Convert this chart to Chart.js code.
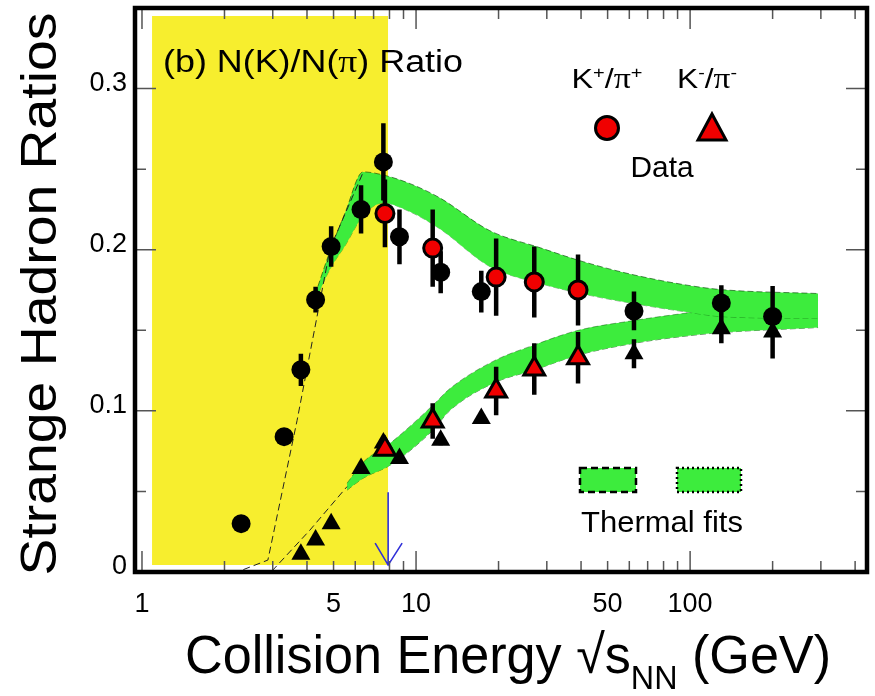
<!DOCTYPE html>
<html>
<head>
<meta charset="utf-8">
<script src="https://cdn.jsdelivr.net/npm/chart.js@4"></script>
<style>
  body { margin: 0; background: #fff; }
</style>
</head>
<body>
<canvas id="c" width="875" height="696"></canvas>
<script>
// ---- data ----
// black circles: K+/pi+ from earlier experiments (AGS, SPS, RHIC)
const eOtherPlus   = [2.3, 3.3, 3.8, 4.3, 4.9, 6.3, 7.6, 8.7, 12.3, 17.3, 62.4, 130, 200];
const kPlusOther   = [0.030, 0.084, 0.1255, 0.169, 0.202, 0.225, 0.2545, 0.208, 0.186, 0.174, 0.162, 0.167, 0.1585];
const kPlusOtherEr = [0, 0, 0.010, 0.008, 0.0125, 0.015, 0.024, 0.017, 0.013, 0.013, 0.012, 0.011, 0.019];

// black triangles: K-/pi- from earlier experiments
const eOtherMinus   = [3.8, 4.3, 4.9, 6.3, 7.6, 8.7, 12.3, 17.3, 62.4, 130, 200];
const kMinusOther   = [0.011, 0.0198, 0.030, 0.0642, 0.080, 0.0704, 0.0817, 0.0952, 0.1354, 0.151, 0.149];
const kMinusOtherEr = [0, 0, 0, 0, 0, 0, 0.003, 0.003, 0.009, 0.009, 0.0165];

// red markers: this data
const eData      = [7.7, 11.5, 19.6, 27, 39];
const kPlusData  = [0.2225, 0.201, 0.183, 0.180, 0.175];
const kPlusEr    = [0.021, 0.024, 0.024, 0.022, 0.022];
const kMinusData = [0.0762, 0.0937, 0.1123, 0.126, 0.133];
const kMinusEr   = [0.004, 0.011, 0.015, 0.016, 0.016];

// thermal fit bands
const fitPlusE  = [4.28, 4.86, 5.51, 6.41, 7.58, 9.51, 12.2, 18.6, 28.4, 40.7, 61.9, 100, 131, 293];
const fitPlusHi = [0.172, 0.1994, 0.2229, 0.2483, 0.2464, 0.2410, 0.2322, 0.2118, 0.2012, 0.1926, 0.1845, 0.1777, 0.1752, 0.1728];
const fitPlusLo = [0.168, 0.1882, 0.2025, 0.2211, 0.2290, 0.2235, 0.2130, 0.1895, 0.1790, 0.1725, 0.1666, 0.1610, 0.1585, 0.1573];
const fitMinusE  = [5.60, 6.41, 8.04, 11.5, 13.3, 19.4, 26.7, 38.7, 61.9, 100, 131, 293];
const fitMinusHi = [0.0551, 0.0681, 0.0799, 0.1034, 0.1139, 0.1313, 0.1406, 0.1498, 0.1560, 0.1610, 0.1635, 0.1684];
const fitMinusLo = [0.0508, 0.0582, 0.0663, 0.0879, 0.1003, 0.1176, 0.1251, 0.1344, 0.1418, 0.1467, 0.1486, 0.1517];

// dashed fit curves at low energy
const linePlusE  = [2.15, 2.88, 3.68, 4.86, 6.41];
const linePlus   = [-0.001, 0.0074, 0.094, 0.201, 0.248];
const lineMinusE = [2.98, 4.10, 5.60];
const lineMinus  = [0.0006, 0.026, 0.053];

// yellow shaded energy range and arrow
const shadeE = [1.088, 7.91];
const shadeY = [0.0043, 0.345];
const arrowE = 7.91;
const arrowY = [0.0495, 0.0043];

// axis ticks
const xTickValues = [1, 2, 3, 4, 5, 6, 7, 8, 9, 10, 20, 30, 40, 50, 60, 70, 80, 90, 100, 200, 300, 400];
const xTickLabels = { 1: '1', 5: '5', 10: '10', 50: '50', 100: '100' };
const xMajor = [1, 10, 100];
const yTickValues = [0, 0.1, 0.2, 0.3];
const yTickLabels = ['0', '0.1', '0.2', '0.3'];

// ---- helpers ----
const canvas = document.getElementById('c');
const greenFill = '#3dec3d';
const yellowFill = '#f7ee2e';

const pts = (xs, ys) => xs.map((x, i) => ({ x: x, y: ys[i] }));
function bars(xs, ys, es) {
  const out = [];
  xs.forEach((x, i) => {
    if (!es[i]) return;
    out.push({ x: x, y: ys[i] - es[i] }, { x: x, y: ys[i] + es[i] }, { x: x, y: null });
  });
  return out;
}

const SANS = '"Liberation Sans", Arial, sans-serif';
const SERIF = '"Liberation Serif", "Times New Roman", serif';
function drawRuns(ctx, runs, x, y, size, align, targetW) {
  const fontOf = k => (k === 'sup' || k === 'sub' ? (size * 0.62) + 'px ' + SANS
                     : k === 'pi' ? (size * 1.05) + 'px ' + SERIF : size + 'px ' + SANS);
  let total = 0;
  const ws = runs.map(r => { ctx.font = fontOf(r[1]); const w = ctx.measureText(r[0]).width; total += w; return w; });
  const sx = targetW ? targetW / total : 1;
  ctx.save();
  ctx.translate(x, y);
  ctx.scale(sx, 1);
  ctx.fillStyle = '#000';
  ctx.textBaseline = 'alphabetic';
  ctx.textAlign = 'left';
  let cx = align === 'center' ? -total / 2 : 0;
  runs.forEach((r, i) => {
    ctx.font = fontOf(r[1]);
    const dy = r[1] === 'sup' ? -size * 0.36 : r[1] === 'sub' ? size * 0.3 : 0;
    ctx.fillText(r[0], cx, dy);
    cx += ws[i];
  });
  ctx.restore();
}

const framePlugin = {
  id: 'frame',
  afterDraw(chart) {
    const { ctx, chartArea: a, scales } = chart;
    const xs = scales.x, ys = scales.y;
    ctx.save();
    // arrow
    const ax = xs.getPixelForValue(arrowE);
    const ay0 = ys.getPixelForValue(arrowY[0]), ay1 = ys.getPixelForValue(arrowY[1]);
    ctx.strokeStyle = '#3030d8'; ctx.lineWidth = 1.6;
    ctx.beginPath();
    ctx.moveTo(ax, ay0); ctx.lineTo(ax, ay1);
    ctx.moveTo(ax - 13, ay1 - 22); ctx.lineTo(ax, ay1); ctx.lineTo(ax + 14, ay1 - 22);
    ctx.stroke();

    // inward ticks
    ctx.strokeStyle = '#555'; ctx.lineWidth = 1.5;
    ctx.beginPath();
    xTickValues.forEach(v => {
      const px = xs.getPixelForValue(v);
      const len = xMajor.includes(v) ? 21 : 11;
      ctx.moveTo(px, a.bottom); ctx.lineTo(px, a.bottom - len);
      ctx.moveTo(px, a.top); ctx.lineTo(px, a.top + len);
    });
    for (let i = 0; i <= 7; i++) {
      const py = ys.getPixelForValue(i * 0.05);
      const len = i % 2 === 0 ? 21 : 11;
      ctx.moveTo(a.left, py); ctx.lineTo(a.left + len, py);
      ctx.moveTo(a.right, py); ctx.lineTo(a.right - len, py);
    }
    ctx.stroke();

    // y tick labels
    ctx.fillStyle = '#000';
    ctx.font = '27px ' + SANS;
    ctx.textAlign = 'right';
    ctx.textBaseline = 'middle';
    yTickValues.forEach((v, i) => ctx.fillText(yTickLabels[i], a.left - 8, ys.getPixelForValue(v) - 5));

    // frame
    ctx.strokeStyle = '#000'; ctx.lineWidth = 4.5;
    ctx.strokeRect(a.left, a.top, a.right - a.left, a.bottom - a.top);

    // title
    drawRuns(ctx, [['(b) N(K)/N(', ''], ['π', 'pi'], [') Ratio', '']], 163, 72, 31, 'left', 300);

    // legend
    drawRuns(ctx, [['K', ''], ['+', 'sup'], ['/', ''], ['π', 'pi'], ['+', 'sup']], 607, 88, 28, 'center', 71);
    drawRuns(ctx, [['K', ''], ['-', 'sup'], ['/', ''], ['π', 'pi'], ['-', 'sup']], 707, 88, 28, 'center', 60);
    ctx.lineWidth = 3; ctx.strokeStyle = '#000'; ctx.fillStyle = '#f00000';
    ctx.beginPath(); ctx.arc(607, 128, 11.5, 0, Math.PI * 2); ctx.fill(); ctx.stroke();
    ctx.beginPath(); ctx.moveTo(712, 114); ctx.lineTo(726, 140); ctx.lineTo(698, 140); ctx.closePath();
    ctx.lineJoin = 'miter'; ctx.fill(); ctx.stroke();
    drawRuns(ctx, [['Data', '']], 662, 177, 29, 'center', 63);

    ctx.fillStyle = greenFill;
    ctx.fillRect(580, 468, 56, 24);
    ctx.fillRect(677, 468, 64, 24);
    ctx.strokeStyle = '#000'; ctx.lineWidth = 2.5;
    ctx.setLineDash([7, 4]); ctx.strokeRect(580, 468, 56, 24);
    ctx.setLineDash([2, 3]); ctx.strokeRect(677, 468, 64, 24);
    ctx.setLineDash([]);
    drawRuns(ctx, [['Thermal fits', '']], 662, 532, 29, 'center', 162);

    // axis titles
    drawRuns(ctx, [['Collision Energy √s', ''], ['NN', 'sub'], [' (GeV)', '']], 185, 673, 54, 'left', 646);
    ctx.save();
    ctx.translate(56, 294);
    ctx.rotate(-Math.PI / 2);
    drawRuns(ctx, [['Strange Hadron Ratios', '']], 0, 0, 50, 'center', 563);
    ctx.restore();
    ctx.restore();
  }
};

const lineBase = { showLine: true, pointRadius: 0, fill: false, tension: 0 };
const noPad = s => { s.paddingTop = 0; s.paddingBottom = 0; s.paddingLeft = 0; s.paddingRight = 0; };

new Chart(canvas, {
  type: 'scatter',
  data: {
    datasets: [
      { data: pts(eData, kPlusData), pointStyle: 'circle', pointRadius: 9, pointBackgroundColor: '#f00000',
        pointBorderColor: '#000', pointBorderWidth: 3, order: 0 },
      { data: pts(eData, kMinusData), pointStyle: 'triangle', pointRadius: 12, pointBackgroundColor: '#f00000',
        pointBorderColor: '#000', pointBorderWidth: 3, order: 0 },
      { data: pts(eOtherPlus, kPlusOther), pointStyle: 'circle', pointRadius: 9.5, pointBackgroundColor: '#000',
        pointBorderWidth: 0, order: 1 },
      { data: pts(eOtherMinus, kMinusOther), pointStyle: 'triangle', pointRadius: 11, pointBackgroundColor: '#000',
        pointBorderWidth: 0, order: 1 },
      Object.assign({}, lineBase, {
        data: [].concat(bars(eOtherPlus, kPlusOther, kPlusOtherEr), bars(eOtherMinus, kMinusOther, kMinusOtherEr),
                        bars(eData, kPlusData, kPlusEr), bars(eData, kMinusData, kMinusEr)),
        borderColor: '#000', borderWidth: 4.5, spanGaps: false, borderCapStyle: 'butt', order: 2 }),
      Object.assign({}, lineBase, { data: pts(linePlusE, linePlus), borderColor: '#222', borderWidth: 1,
        borderDash: [7, 4], order: 3 }),
      Object.assign({}, lineBase, { data: pts(lineMinusE, lineMinus), borderColor: '#222', borderWidth: 1,
        borderDash: [7, 4], order: 3 }),
      Object.assign({}, lineBase, { data: pts(fitPlusE, fitPlusHi), borderColor: 'rgba(0,60,0,0.6)', borderWidth: 1,
        borderDash: [6, 3], fill: '+1', backgroundColor: greenFill, cubicInterpolationMode: 'monotone', order: 4 }),
      Object.assign({}, lineBase, { data: pts(fitPlusE, fitPlusLo), borderColor: 'rgba(0,60,0,0.4)', borderWidth: 1,
        borderDash: [6, 3], cubicInterpolationMode: 'monotone', order: 4 }),
      Object.assign({}, lineBase, { data: pts(fitMinusE, fitMinusHi), borderColor: 'rgba(0,60,0,0.4)', borderWidth: 1,
        borderDash: [6, 3], fill: '+1', backgroundColor: greenFill, cubicInterpolationMode: 'monotone', order: 4 }),
      Object.assign({}, lineBase, { data: pts(fitMinusE, fitMinusLo), borderColor: 'rgba(0,60,0,0.6)', borderWidth: 1,
        borderDash: [6, 3], cubicInterpolationMode: 'monotone', order: 4 }),
      Object.assign({}, lineBase, { data: pts(shadeE, [shadeY[1], shadeY[1]]), borderWidth: 0,
        borderColor: 'rgba(0,0,0,0)', fill: { value: shadeY[0] }, backgroundColor: yellowFill, order: 5 })
    ]
  },
  options: {
    responsive: false,
    animation: false,
    devicePixelRatio: 1,
    layout: { autoPadding: false, padding: { top: 8, right: 8, left: 0, bottom: 0 } },
    plugins: { legend: { display: false }, tooltip: { enabled: false } },
    scales: {
      x: {
        type: 'logarithmic',
        min: 0.943,
        max: 442,
        grid: { display: false, drawTicks: false },
        border: { display: false },
        afterBuildTicks: s => { s.ticks = xTickValues.map(v => ({ value: v })); },
        afterFit: s => { s.height = 124; noPad(s); },
        ticks: {
          autoSkip: false, maxRotation: 0, padding: 16, color: '#000',
          font: { family: 'Liberation Sans', size: 27 },
          callback: v => xTickLabels[v] || ''
        }
      },
      y: {
        min: 0,
        max: 0.35,
        grid: { display: false, drawTicks: false },
        border: { display: false },
        afterFit: s => { s.width = 135; noPad(s); },
        ticks: { display: false, stepSize: 0.05 }
      }
    }
  },
  plugins: [framePlugin]
});
</script>
</body>
</html>
